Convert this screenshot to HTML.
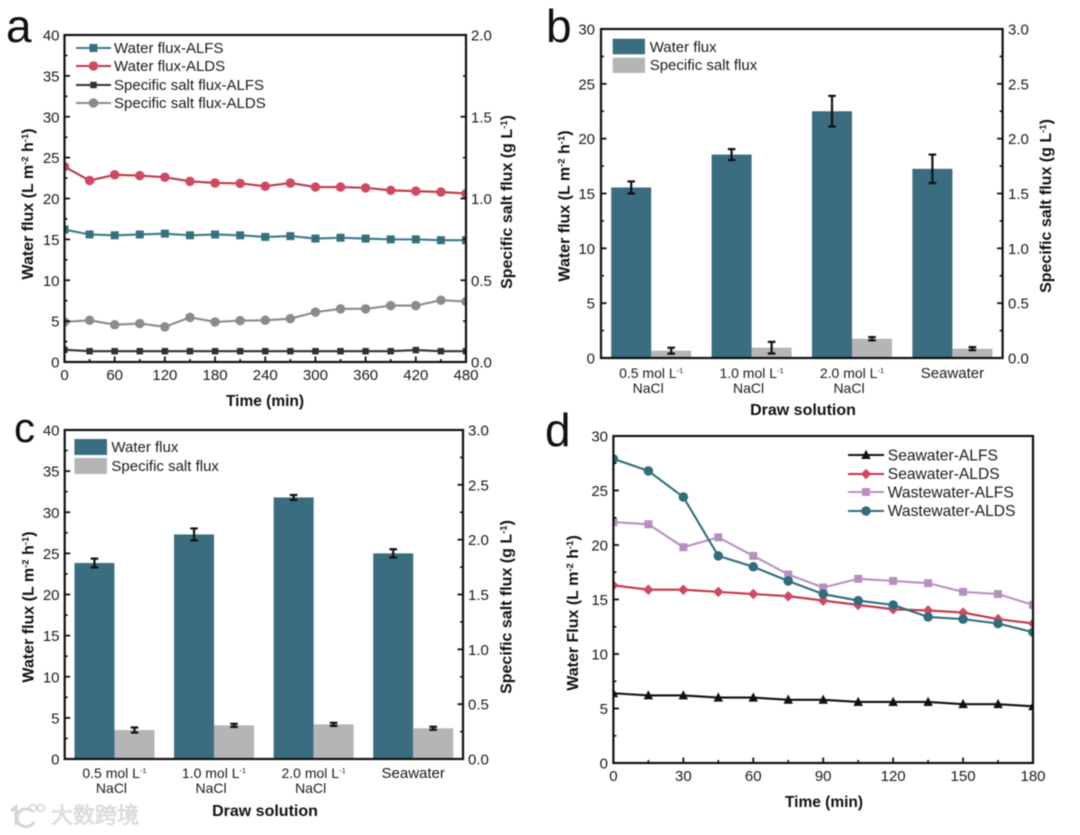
<!DOCTYPE html>
<html lang="en">
<head>
<meta charset="utf-8">
<title>Water flux and specific salt flux charts</title>
<style>
html,body{margin:0;padding:0;background:#fff;}
body{width:1080px;height:835px;overflow:hidden;}
svg{display:block;filter:blur(0.45px);}
text{font-family:"Liberation Sans","Noto Sans CJK SC",sans-serif;fill:#1a1a1a;}
.tick{font-size:15px;}
.leg{font-size:15px;}
.leg-d{font-size:15.6px;}
.title{font-size:16px;font-weight:bold;fill:#111;}
.title-x{font-size:15.5px;}
.panel{font-size:46px;fill:#111;}
.sup{font-size:9.5px;}
.sup-cat{font-size:7.5px;}
</style>
</head>
<body>
<svg id="chart" xmlns="http://www.w3.org/2000/svg" width="1080" height="835" viewBox="0 0 1080 835">
  <defs>
    <clipPath id="clip-a"><rect x="64.5" y="35" width="401.5" height="327"/></clipPath>
    <clipPath id="clip-d"><rect x="613.4" y="436" width="419.6" height="327"/></clipPath>
  </defs>

  <g id="panel-a">
    <text class="panel" x="6" y="42">a</text>
    <g id="a-marks" clip-path="url(#clip-a)"></g>
    <rect x="64.5" y="35" width="401.5" height="327" fill="none" stroke="#111" stroke-width="2.2"/>
    <g id="a-axes"></g>
    <text class="title" text-anchor="middle" transform="translate(33,204) rotate(-90)">Water flux (L m<tspan class="sup" dy="-5">-2</tspan><tspan dy="5"> h</tspan><tspan class="sup" dy="-5">-1</tspan><tspan dy="5">)</tspan></text>
    <text class="title" text-anchor="middle" transform="translate(512,202) rotate(-90)">Specific salt flux (g L<tspan class="sup" dy="-5">-1</tspan><tspan dy="5">)</tspan></text>
    <text class="title title-x" text-anchor="middle" x="265" y="406">Time (min)</text>
    <g id="a-legend">
      <text class="leg" x="114" y="53">Water flux-ALFS</text>
      <text class="leg" x="114" y="71">Water flux-ALDS</text>
      <text class="leg" x="114" y="90">Specific salt flux-ALFS</text>
      <text class="leg" x="114" y="108">Specific salt flux-ALDS</text>
    </g>
  </g>

  <g id="panel-b">
    <text class="panel" x="546" y="42">b</text>
    <g id="b-marks"></g>
    <rect x="601" y="29" width="401.6" height="329" fill="none" stroke="#111" stroke-width="2.2"/>
    <g id="b-axes"></g>
    <text class="title" text-anchor="middle" transform="translate(569.5,206) rotate(-90)">Water flux (L m<tspan class="sup" dy="-5">-2</tspan><tspan dy="5"> h</tspan><tspan class="sup" dy="-5">-1</tspan><tspan dy="5">)</tspan></text>
    <text class="title" text-anchor="middle" transform="translate(1051,206) rotate(-90)">Specific salt flux (g L<tspan class="sup" dy="-5">-1</tspan><tspan dy="5">)</tspan></text>
    <text class="title" text-anchor="middle" x="803" y="415">Draw solution</text>
    <g>
      <rect x="612.7" y="38.7" width="32.3" height="15.6" fill="#3b6d80"/>
      <rect x="612.7" y="57.7" width="32.3" height="15.3" fill="#b5b5b8"/>
      <text class="leg" x="649.7" y="52">Water flux</text>
      <text class="leg" x="649.7" y="70">Specific salt flux</text>
    </g>
  </g>

  <g id="panel-c">
    <text class="panel" x="14" y="442" style="font-size:42px">c</text>
    <g id="c-marks"></g>
    <rect x="64.7" y="430" width="398.3" height="329" fill="none" stroke="#111" stroke-width="2.2"/>
    <g id="c-axes"></g>
    <text class="title" text-anchor="middle" transform="translate(33.5,607) rotate(-90)">Water flux (L m<tspan class="sup" dy="-5">-2</tspan><tspan dy="5"> h</tspan><tspan class="sup" dy="-5">-1</tspan><tspan dy="5">)</tspan></text>
    <text class="title" text-anchor="middle" transform="translate(511.5,607) rotate(-90)">Specific salt flux (g L<tspan class="sup" dy="-5">-1</tspan><tspan dy="5">)</tspan></text>
    <text class="title" text-anchor="middle" x="265" y="816">Draw solution</text>
    <g>
      <rect x="74.4" y="439" width="32.6" height="16" fill="#3b6d80"/>
      <rect x="74.4" y="458" width="32.6" height="16" fill="#b5b5b8"/>
      <text class="leg" x="111.4" y="452">Water flux</text>
      <text class="leg" x="111.4" y="471">Specific salt flux</text>
    </g>
  </g>

  <g id="panel-d">
    <text class="panel" x="545" y="446">d</text>
    <g id="d-marks" clip-path="url(#clip-d)"></g>
    <rect x="613.4" y="436" width="419.6" height="327" fill="none" stroke="#111" stroke-width="2.2"/>
    <g id="d-axes"></g>
    <text class="title" text-anchor="middle" transform="translate(578,613) rotate(-90)">Water Flux (L m<tspan class="sup" dy="-5">-2</tspan><tspan dy="5"> h</tspan><tspan class="sup" dy="-5">-1</tspan><tspan dy="5">)</tspan></text>
    <text class="title title-x" text-anchor="middle" x="824" y="807">Time (min)</text>
    <g id="d-legend">
      <text class="leg-d" x="887.8" y="460.5">Seawater-ALFS</text>
      <text class="leg-d" x="887.8" y="479">Seawater-ALDS</text>
      <text class="leg-d" x="887.8" y="497.5">Wastewater-ALFS</text>
      <text class="leg-d" x="887.8" y="516">Wastewater-ALDS</text>
    </g>
  </g>

  <g>
    <path d="M11 811 L16 807 L16 825 M32 811 A9 9 0 1 0 34 822" fill="none" stroke="#d4d4d4" stroke-width="3"/>
    <circle cx="33" cy="808" r="3.5" fill="none" stroke="#d4d4d4" stroke-width="1.5"/>
    <circle cx="41" cy="808" r="3.5" fill="none" stroke="#d4d4d4" stroke-width="1.5"/>
    <text x="51" y="823" style="font-size:22px;fill:#e6e6e6;stroke:#cfcfcf;stroke-width:0.6px">大数跨境</text>
  </g>
</svg>

<script>
// ---------- Panel a data ----------
var aTimes = [0,30,60,90,120,150,180,210,240,270,300,330,360,390,420,450,480];
var aWaterAlfs = [16.2,15.6,15.5,15.6,15.7,15.5,15.6,15.5,15.3,15.4,15.1,15.2,15.1,15.0,15.0,14.9,14.9];
var aWaterAlds = [23.9,22.2,22.9,22.8,22.6,22.1,21.9,21.85,21.5,21.9,21.4,21.4,21.3,21.0,20.9,20.8,20.6];
var aSaltAlfs = [0.075,0.066,0.066,0.066,0.066,0.066,0.066,0.066,0.066,0.066,0.066,0.066,0.066,0.066,0.073,0.066,0.066];
var aSaltAlds = [0.245,0.255,0.228,0.235,0.215,0.273,0.245,0.253,0.255,0.265,0.305,0.325,0.325,0.345,0.345,0.378,0.37];
var aXTickLabels = ['0','60','120','180','240','300','360','420','480'];
var aLeftTickLabels = ['0','5','10','15','20','25','30','35','40'];
var aRightTickLabels = ['0.0','0.5','1.0','1.5','2.0'];

// ---------- Panel b data ----------
var barCatLine1 = ['0.5 mol L','1.0 mol L','2.0 mol L','Seawater'];
var barCatSup = ['-1','-1','-1',''];
var barCatLine2 = ['NaCl','NaCl','NaCl',''];
var bWater = [15.55,18.55,22.5,17.25];
var bWaterErr = [0.55,0.5,1.4,1.3];
var bSalt = [0.067,0.094,0.176,0.085];
var bSaltErr = [0.027,0.053,0.015,0.014];
var bLeftTickLabels = ['0','5','10','15','20','25','30'];
var bRightTickLabels = ['0.0','0.5','1.0','1.5','2.0','2.5','3.0'];

// ---------- Panel c data ----------
var cWater = [23.83,27.3,31.8,25.0];
var cWaterErr = [0.53,0.73,0.3,0.5];
var cSalt = [0.264,0.307,0.316,0.28];
var cSaltErr = [0.023,0.014,0.014,0.014];
var cLeftTickLabels = ['0','5','10','15','20','25','30','35','40'];
var cRightTickLabels = ['0.0','0.5','1.0','1.5','2.0','2.5','3.0'];

// ---------- Panel d data ----------
var dTimes = [0,15,30,45,60,75,90,105,120,135,150,165,180];
var dSeawaterAlfs = [6.4,6.2,6.2,6.0,6.0,5.8,5.8,5.6,5.6,5.6,5.4,5.4,5.2];
var dSeawaterAlds = [16.3,15.9,15.9,15.7,15.5,15.3,14.9,14.5,14.1,14.0,13.8,13.2,12.8];
var dWastewaterAlfs = [22.1,21.9,19.8,20.7,19.0,17.3,16.1,16.9,16.7,16.5,15.7,15.5,14.5];
var dWastewaterAlds = [27.9,26.8,24.4,19.0,18.0,16.7,15.5,14.9,14.5,13.4,13.2,12.8,12.0];
var dXTickLabels = ['0','30','60','90','120','150','180'];
var dYTickLabels = ['0','5','10','15','20','25','30'];

var NS = 'http://www.w3.org/2000/svg';
function make(tag, parent, attrs) {
  var n = document.createElementNS(NS, tag);
  for (var k in attrs) n.setAttribute(k, attrs[k]);
  parent.appendChild(n);
  return n;
}
function linear(d0, d1, r0, r1) {
  return function (v) { return r0 + (v - d0) * (r1 - r0) / (d1 - d0); };
}
function fmt(n){ return n.toFixed(2); }

// Major ticks come from the label arrays; a minor tick is placed midway between majors.
function yTicks(g, name, scale, labels, axisX, dir, labelX, anchor) {
  labels.forEach(function (lab, i) {
    var v = parseFloat(lab);
    var y = scale(v);
    var t = make('line', g, {x1: axisX, x2: axisX + dir * 5.5, y1: y, y2: y, stroke: '#111', 'stroke-width': 1.8});
    
    
    var tx = make('text', g, {x: labelX, y: y + 5.5, 'text-anchor': anchor, 'class': 'tick'});
    tx.textContent = lab;
    
    
    if (i < labels.length - 1) {
      var my = scale((v + parseFloat(labels[i + 1])) / 2);
      var m = make('line', g, {x1: axisX, x2: axisX + dir * 3, y1: my, y2: my, stroke: '#111', 'stroke-width': 1.6});
      
      
    }
  });
}
function xTicks(g, name, scale, labels, axisY, labelY) {
  labels.forEach(function (lab, i) {
    var v = parseFloat(lab);
    var x = scale(v);
    var t = make('line', g, {x1: x, x2: x, y1: axisY, y2: axisY - 5.5, stroke: '#111', 'stroke-width': 1.8});
    
    
    var tx = make('text', g, {x: x, y: labelY, 'text-anchor': 'middle', 'class': 'tick'});
    tx.textContent = lab;
    
    
    if (i < labels.length - 1) {
      var mx = scale((v + parseFloat(labels[i + 1])) / 2);
      var m = make('line', g, {x1: mx, x2: mx, y1: axisY, y2: axisY - 3, stroke: '#111', 'stroke-width': 1.6});
      
      
    }
  });
}
function marker(g, shape, cx, cy, size, fill) {
  var n;
  if (shape === 'square') {
    n = make('rect', g, {x: cx - size / 2, y: cy - size / 2, width: size, height: size, fill: fill});
  } else if (shape === 'circle') {
    n = make('circle', g, {cx: cx, cy: cy, r: size / 2, fill: fill});
  } else if (shape === 'triangle') {
    n = make('polygon', g, {points: fmt(cx) + ',' + fmt(cy - size * 0.55) + ' ' + fmt(cx - size / 2) + ',' + fmt(cy + size * 0.42) + ' ' + fmt(cx + size / 2) + ',' + fmt(cy + size * 0.42), fill: fill});
  } else {
    n = make('polygon', g, {points: fmt(cx) + ',' + fmt(cy - size / 2) + ' ' + fmt(cx + size / 2) + ',' + fmt(cy) + ' ' + fmt(cx) + ',' + fmt(cy + size / 2) + ' ' + fmt(cx - size / 2) + ',' + fmt(cy), fill: fill});
  }
  return n;
}
function series(g, name, xs, ys, sx, sy, color, markerColor, shape, size) {
  var pts = xs.map(function (x, i) { return fmt(sx(x)) + ',' + fmt(sy(ys[i])); }).join(' ');
  var line = make('polyline', g, {points: pts, fill: 'none', stroke: color, 'stroke-width': 2.1});
  
  
  xs.forEach(function (x, i) {
    var m = marker(g, shape, sx(x), sy(ys[i]), size, markerColor);
    
    
  });
}
function legendLine(g, name, x0, x1, y, color, markerColor, shape, size) {
  var l = make('line', g, {x1: x0, x2: x1, y1: y, y2: y, stroke: color, 'stroke-width': 2});
  
  
  var m = marker(g, shape, (x0 + x1) / 2, y, size, markerColor);
  
  
}
function errorBar(g, name, x, scale, v, e) {
  var d = 'M' + fmt(x - 3.8) + ' ' + fmt(scale(v + e)) + 'H' + fmt(x + 3.8) +
          'M' + fmt(x - 3.8) + ' ' + fmt(scale(v - e)) + 'H' + fmt(x + 3.8) +
          'M' + fmt(x) + ' ' + fmt(scale(v + e)) + 'V' + fmt(scale(v - e));
  var p = make('path', g, {d: d, fill: 'none', stroke: '#111', 'stroke-width': 2.2});
  
  
}
function bars(marks, axes, left, right, bottom, yL, yR, water, waterErr, salt, saltErr, lab1Y) {
  var groupW = (right - left) / water.length;
  var barW = 40;
  water.forEach(function (v, i) {
    var c = left + groupW * (i + 0.5);
    var w = make('rect', marks, {x: c - barW, y: yL(v), width: barW, height: bottom - yL(v), fill: '#3b6d80'});
    
    
    var s = make('rect', marks, {x: c, y: yR(salt[i]), width: barW, height: bottom - yR(salt[i]), fill: '#b5b5b8'});
    
    
    errorBar(marks, 'water-flux', c - barW / 2, yL, v, waterErr[i]);
    errorBar(marks, 'salt-flux', c + barW / 2, yR, salt[i], saltErr[i]);

    var t = make('text', axes, {x: c, y: lab1Y, 'text-anchor': 'middle', 'class': 'tick', style: barCatSup[i] ? 'font-size:14px' : 'font-size:15px'});
    
    
    t.appendChild(document.createTextNode(barCatLine1[i]));
    if (barCatSup[i]) {
      var sp = make('tspan', t, {dy: -5, 'class': 'sup-cat'});
      sp.textContent = barCatSup[i];
    }
    if (barCatLine2[i]) {
      var t2 = make('text', axes, {x: c - 3, y: lab1Y + 15, 'text-anchor': 'middle', 'class': 'tick', style: 'font-size:14px'});
      t2.textContent = barCatLine2[i];
      
      
    }
  });
}

// Panel a
(function () {
  var marks = document.getElementById('a-marks');
  var axes = document.getElementById('a-axes');
  var legend = document.getElementById('a-legend');
  var sx = linear(0, 480, 64.5, 466);
  var yL = linear(0, 40, 362, 35);
  var yR = linear(0, 2, 362, 35);
  series(marks, 'salt-flux-alds', aTimes, aSaltAlds, sx, yR, '#8f8a8a', '#8f8a8a', 'circle', 9.5);
  series(marks, 'salt-flux-alfs', aTimes, aSaltAlfs, sx, yR, '#333', '#2e3238', 'square', 6.5);
  series(marks, 'water-flux-alfs', aTimes, aWaterAlfs, sx, yL, '#3a7a8c', '#35707f', 'square', 8);
  series(marks, 'water-flux-alds', aTimes, aWaterAlds, sx, yL, '#c2344c', '#cf4a60', 'circle', 9.5);
  yTicks(axes, 'left-axis', yL, aLeftTickLabels, 64.5, 1, 59.5, 'end');
  yTicks(axes, 'right-axis', yR, aRightTickLabels, 466, -1, 471, 'start');
  xTicks(axes, 'x-axis', sx, aXTickLabels, 362, 380);
  legendLine(legend, 'water-flux-alfs', 76, 111, 48, '#3a7a8c', '#35707f', 'square', 8);
  legendLine(legend, 'water-flux-alds', 76, 111, 66, '#c2344c', '#cf4a60', 'circle', 9.5);
  legendLine(legend, 'salt-flux-alfs', 76, 111, 85, '#333', '#2e3238', 'square', 6.5);
  legendLine(legend, 'salt-flux-alds', 76, 111, 103, '#8f8a8a', '#8f8a8a', 'circle', 9.5);
})();

// Panel b
(function () {
  var marks = document.getElementById('b-marks');
  var axes = document.getElementById('b-axes');
  var yL = linear(0, 30, 358, 29);
  var yR = linear(0, 3, 358, 29);
  bars(marks, axes, 601, 1002.6, 358, yL, yR, bWater, bWaterErr, bSalt, bSaltErr, 378);
  yTicks(axes, 'left-axis', yL, bLeftTickLabels, 601, 1, 595, 'end');
  yTicks(axes, 'right-axis', yR, bRightTickLabels, 1002.6, -1, 1008, 'start');
})();

// Panel c
(function () {
  var marks = document.getElementById('c-marks');
  var axes = document.getElementById('c-axes');
  var yL = linear(0, 40, 759, 430);
  var yR = linear(0, 3, 759, 430);
  bars(marks, axes, 64.7, 463, 759, yL, yR, cWater, cWaterErr, cSalt, cSaltErr, 778);
  yTicks(axes, 'left-axis', yL, cLeftTickLabels, 64.7, 1, 59.5, 'end');
  yTicks(axes, 'right-axis', yR, cRightTickLabels, 463, -1, 468, 'start');
})();

// Panel d
(function () {
  var marks = document.getElementById('d-marks');
  var axes = document.getElementById('d-axes');
  var legend = document.getElementById('d-legend');
  var sx = linear(0, 180, 613.4, 1033);
  var sy = linear(0, 30, 763, 436);
  series(marks, 'seawater-alfs', dTimes, dSeawaterAlfs, sx, sy, '#111', '#111', 'triangle', 9.5);
  series(marks, 'seawater-alds', dTimes, dSeawaterAlds, sx, sy, '#c2344c', '#cf4a60', 'diamond', 10.5);
  series(marks, 'wastewater-alfs', dTimes, dWastewaterAlfs, sx, sy, '#b98fc4', '#b68fc0', 'square', 8);
  series(marks, 'wastewater-alds', dTimes, dWastewaterAlds, sx, sy, '#2f6d7a', '#2f6d7a', 'circle', 9.5);
  yTicks(axes, 'y-axis', sy, dYTickLabels, 613.4, 1, 608, 'end');
  xTicks(axes, 'x-axis', sx, dXTickLabels, 763, 781);
  legendLine(legend, 'seawater-alfs', 848, 884, 455, '#111', '#111', 'triangle', 9.5);
  legendLine(legend, 'seawater-alds', 848, 884, 474, '#c2344c', '#cf4a60', 'diamond', 10.5);
  legendLine(legend, 'wastewater-alfs', 848, 884, 492, '#b98fc4', '#b68fc0', 'square', 8);
  legendLine(legend, 'wastewater-alds', 848, 884, 511, '#2f6d7a', '#2f6d7a', 'circle', 9.5);
})();
</script>
</body>
</html>
